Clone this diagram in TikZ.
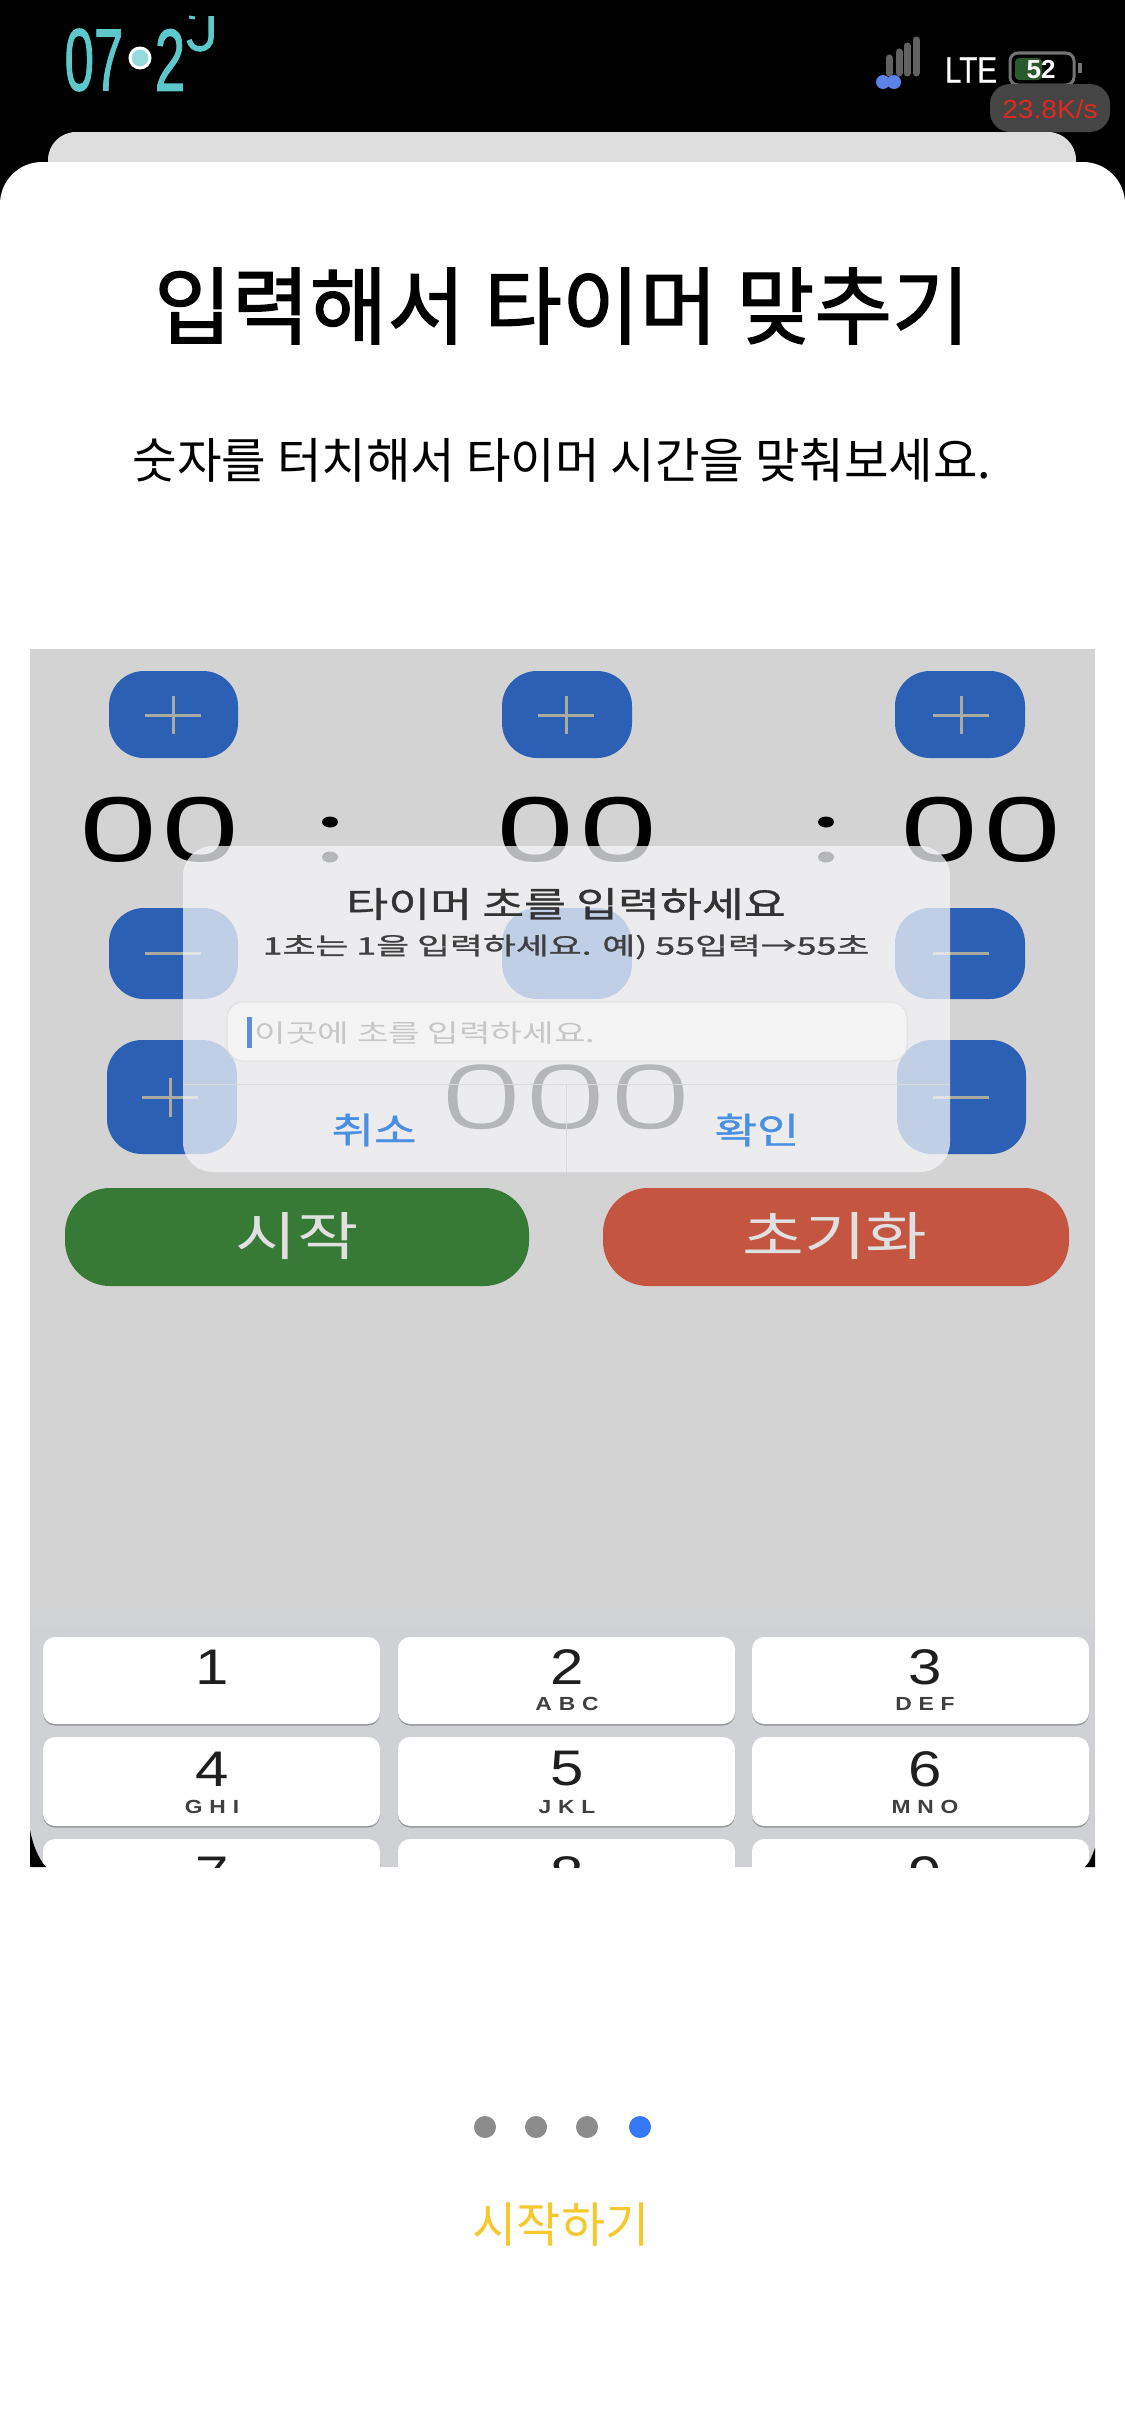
\documentclass[tikz,border=0pt]{standalone}
\usepackage{fontspec}
\setmainfont{Liberation Sans}
\newfontfamily\lsb[FakeBold=1.5]{Liberation Sans}
\newfontfamily\lsc[FakeBold=0.8]{Liberation Sans}
\newfontfamily\kr{Noto Sans CJK KR}
\newfontfamily\krmed[FakeBold=1.6]{Noto Sans CJK KR}
\newfontfamily\krsemi[FakeBold=0.9]{Noto Sans CJK KR}
\newfontfamily\pop{Poppins Light}
\newfontfamily\popr{Poppins}
\newcommand\fz[1]{\fontsize{\fpeval{#1*0.28453}}{\fpeval{#1*0.34}}\selectfont}
\definecolor{screenbg}{HTML}{D3D3D3}
\definecolor{keybg}{HTML}{CFD1D5}
\definecolor{btnblue}{HTML}{2B60B5}
\definecolor{signblue}{HTML}{A9AAA0}
\definecolor{teal1}{HTML}{5CC8CC}
\definecolor{dlg}{RGB}{245,246,248}
\definecolor{linkblue}{HTML}{4A90E2}
\definecolor{cursorblue}{HTML}{5F8FD8}
\definecolor{startgreen}{RGB}{55,122,53}
\definecolor{resetred}{RGB}{196,85,64}
\definecolor{pageblue}{RGB}{52,120,246}
\definecolor{goyellow}{RGB}{245,201,46}
\definecolor{simblue}{HTML}{5B82E6}
\definecolor{battgreen}{HTML}{2A5A2C}
\definecolor{speedred}{HTML}{DE2A22}
\tikzset{x=0.01cm,y=-0.01cm,
 txt/.style={inner sep=0pt,outer sep=0pt,anchor=center},
 bluebtn/.style={fill=btnblue,rounded corners=0.35cm},
 sign/.style={draw=signblue,line width=0.03cm},
 keycap/.style={fill=white,rounded corners=0.12cm},
 keyshadow/.style={fill=black!42,rounded corners=0.12cm},
 digit/.style={txt,font=\fz{50},text=black!88},
 subkey/.style={txt,font=\bfseries\fz{19},text=black!75},
 dot/.style={fill=black!45,circle,inner sep=0pt,minimum size=0.22cm}
}
\begin{document}
\begin{tikzpicture}
\useasboundingbox (0,0) rectangle (1125,2436);
\fill[white] (0,0) rectangle (1125,2436);
% status bar
\fill[black] (0,0) rectangle (1125,240);
\node[txt,text=teal1,font=\lsb\fz{88}] (hour) at (94,60) {\scalebox{.6}[1]{07}};
\node[txt,text=teal1,font=\lsb\fz{88}] (minute) at (170,60) {\scalebox{.62}[1]{2}};
\node[circle,draw=white,line width=0.03cm,fill=teal1!65,minimum width=0.2cm,inner sep=0pt] (sep) at (140,58) {};
\draw[teal1,line width=0.055cm] (211,16) -- (211,38) arc[start angle=0,end angle=-170,x radius=11,y radius=-11];
\draw[teal1,line width=0.03cm] (189,17) -- (195,18);
\foreach \x/\t in {889/55,899/49,907/43,916/37}
  \draw[black!62,line width=0.07cm,line cap=round] (\x,\t+3) -- (\x,73);
\fill[simblue] (883,82) circle[radius=7] (894,82) circle[radius=7];
\node[txt,text=white,font=\lsc\fz{37}] (lte) at (971,70) {\scalebox{.8}[1]{LTE}};
\fill[battgreen,rounded corners=0.04cm] (1015,58) rectangle (1042,80);
\draw[black!55,line width=0.03cm,rounded corners=0.08cm] (1010,53) rectangle (1074,85);
\fill[black!55] (1078,63) rectangle (1082,73);
\node[txt,text=white,font=\bfseries\fz{26}] (batt) at (1041,70) {52};
\fill[black!73,rounded corners=0.2cm] (990,84) rectangle (1110,132);
\node[txt,text=speedred,font=\fz{26}] (speed) at (1050,109) {\scalebox{1.08}[1]{23.8K/s}};
% sheets
\fill[black!13,rounded corners=0.28cm] (48,132) rectangle (1076,240);
\fill[white,rounded corners=0.42cm] (0,162) rectangle (1125,400);
\fill[white] (0,280) rectangle (1125,2436);
% headings
\node[txt,font=\krmed\fz{84.5}] (title) at (562,306) {입력해서 타이머 맞추기};
\node[txt,font=\kr\fz{48.4}] (subtitle) at (562,460) {숫자를 터치해서 타이머 시간을 맞춰보세요.};
% screenshot
\begin{scope}
\clip (30,649) rectangle (1095,1867);
\fill[screenbg] (30,649) rectangle (1095,1867);
\shade[top color=screenbg,bottom color=keybg] (30,1600) rectangle (1095,1637);
\fill[keybg] (30,1637) rectangle (1095,1867);
\foreach \x/\y/\w/\h in {109/671/129/87,502/671/130/87,895/671/130/87,109/908/129/91,502/908/130/91,895/908/130/91,107/1040/130/114,897/1040/129/114}
  \fill[bluebtn] (\x,\y) rectangle (\x+\w,\y+\h);
\foreach \x in {173,566,961}
  \draw[sign] (\x-28,715) -- (\x+28,715) (\x,696) -- (\x,734);
\foreach \x in {173,961}
  \draw[sign] (\x-28,953) -- (\x+28,953);
\draw[sign] (142,1097) -- (198,1097) (170,1078) -- (170,1117);
\draw[sign] (933,1097) -- (989,1097);
\node[txt,font=\popr\fz{89}] (ha) at (160,830) {\scalebox{1.47}[1]{00}};
\node[txt,font=\popr\fz{89}] (mi) at (577,830) {\scalebox{1.47}[1]{00}};
\node[txt,font=\popr\fz{89}] (se) at (981,830) {\scalebox{1.47}[1]{00}};
\fill[black] (330,822) ellipse[x radius=8,y radius=5.5] (330,857) ellipse[x radius=8,y radius=5.5];
\fill[black] (826,822) ellipse[x radius=8,y radius=5.5] (826,857) ellipse[x radius=8,y radius=5.5];
\node[txt,font=\pop\fz{89}] (big) at (566,1097) {\scalebox{1.54}[1]{000}};
% dialog
\fill[dlg,opacity=.74,rounded corners=0.3cm] (183,846) rectangle (950,1172);
\draw[black!15,line width=0.01cm] (183,1084.5) -- (950,1084.5) (566,1084.5) -- (566,1172);
\node[txt,font=\krsemi\fz{35},text=black!80] (dt) at (566,904) {\scalebox{1.3}[1]{타이머 초를 입력하세요}};
\node[txt,font=\krsemi\fz{24},text=black!75] (ds) at (566,947) {\scalebox{1.49}[1]{1초는 1을 입력하세요. 예) 55입력→55초}};
\fill[black!4.5,draw=black!12,line width=0.01cm,rounded corners=0.16cm] (227,1002) rectangle (907,1061);
\fill[cursorblue] (247,1017) rectangle (252,1048);
\node[txt,font=\kr\fz{25},text=black!22] (ph) at (425,1033) {\scalebox{1.37}[1]{이곳에 초를 입력하세요.}};
\node[txt,font=\krsemi\fz{36},text=linkblue] (cancel) at (374,1130) {\scalebox{1.28}[1]{취소}};
\node[txt,font=\krsemi\fz{36},text=linkblue] (ok) at (757,1130) {\scalebox{1.28}[1]{확인}};
% action buttons
\fill[startgreen,rounded corners=0.45cm] (65,1188) rectangle (529,1286);
\fill[resetred,rounded corners=0.45cm] (603,1188) rectangle (1069,1286);
\node[txt,font=\kr\fz{52},text=black!12] (start) at (297,1236) {\scalebox{1.28}[1]{시작}};
\node[txt,font=\kr\fz{52},text=black!12] (reset) at (835,1236) {\scalebox{1.29}[1]{초기화}};
% keypad
\foreach \x/\xx in {43/380,398/735,752/1089}
  \foreach \y/\yy in {1637/1724,1737/1826,1839/1930}{
    \fill[keyshadow] (\x,\y+3) rectangle (\xx,\yy+1.5);
    \fill[keycap] (\x,\y) rectangle (\xx,\yy);
  }
\node[digit] (k1) at (212,1667) {\scalebox{1.2}[1]{1}};
\node[digit] (k2) at (567,1667) {\scalebox{1.2}[1]{2}};
\node[digit] (k3) at (925,1667) {\scalebox{1.2}[1]{3}};
\node[digit] (k4) at (212,1769) {\scalebox{1.2}[1]{4}};
\node[digit] (k5) at (567,1769) {\scalebox{1.2}[1]{5}};
\node[digit] (k6) at (925,1769) {\scalebox{1.2}[1]{6}};
\node[digit] (k7) at (212,1874) {\scalebox{1.2}[1]{7}};
\node[digit] (k8) at (567,1874) {\scalebox{1.2}[1]{8}};
\node[digit] (k9) at (925,1874) {\scalebox{1.2}[1]{9}};
\node[subkey] (l2) at (567,1704) {\scalebox{1.2}[1]{A\kern.3em B\kern.3em C}};
\node[subkey] (l3) at (925,1704) {\scalebox{1.2}[1]{D\kern.3em E\kern.3em F}};
\node[subkey] (l4) at (212,1807) {\scalebox{1.2}[1]{G\kern.3em H\kern.3em I}};
\node[subkey] (l5) at (567,1807) {\scalebox{1.2}[1]{J\kern.3em K\kern.3em L}};
\node[subkey] (l6) at (925,1807) {\scalebox{1.2}[1]{M\kern.3em N\kern.3em O}};
\fill[black] (30,1830) .. controls (33,1845) and (38,1858) .. (46,1867) -- (30,1867) -- cycle;
\fill[black] (1095,1848) .. controls (1092,1856) and (1090,1862) .. (1085,1867) -- (1095,1867) -- cycle;
\end{scope}
% pager
\node[dot] (p1) at (485,2127) {};
\node[dot] (p2) at (536,2127) {};
\node[dot] (p3) at (587,2127) {};
\node[dot,fill=pageblue] (p4) at (640,2127) {};
\node[txt,font=\kr\fz{48},text=goyellow] (go) at (561,2225) {시작하기};
\end{tikzpicture}
\end{document}
